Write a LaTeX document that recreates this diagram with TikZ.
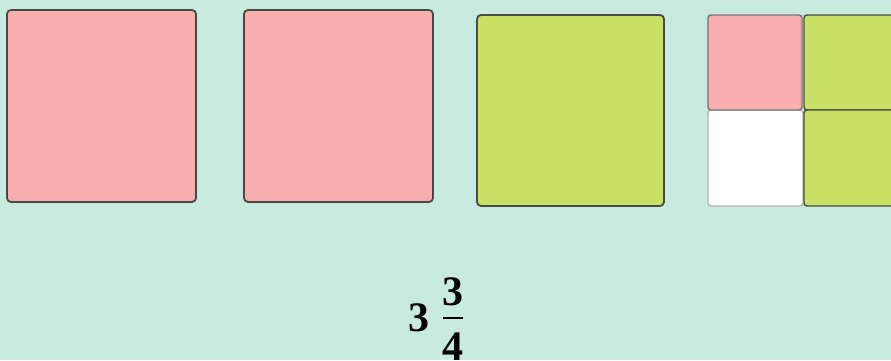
\documentclass[tikz,border=0pt]{standalone}
\usepackage{fontspec}
\setmainfont{Liberation Serif}
\definecolor{bgmint}{HTML}{C9EBDF}
\definecolor{pinkfill}{HTML}{F9AFAE}
\definecolor{greenfill}{HTML}{C9E066}
\definecolor{edgedark}{HTML}{4A4A45}
\begin{document}
\begin{tikzpicture}[x=1pt,y=-1pt,
  sq/.style={draw=edgedark, line width=1.8pt, rounded corners=4pt, inner sep=0pt, outer sep=0pt, anchor=north west},
  pinksq/.style={sq, fill=pinkfill},
  greensq/.style={sq, fill=greenfill},
  piece/.style={sq, line width=1.4pt, rounded corners=3pt},
  numtext/.style={font=\fontsize{42}{44}\selectfont\bfseries, inner sep=0pt, text=black}]
\fill[bgmint] (0,0) rectangle (891,360);
\useasboundingbox (0,0) rectangle (891,360);
\clip (0,0) rectangle (891,360);
\node[pinksq, minimum width=189pt, minimum height=192pt] (p1) at (7,10) {};
\node[pinksq, minimum width=189pt, minimum height=192pt] (p2) at (244,10) {};
\node[greensq, minimum width=187pt, minimum height=191pt] (g1) at (477,15) {};
\node[piece, draw=gray!60, fill=white, minimum width=95pt, minimum height=96pt] (w) at (708,110) {};
\node[piece, draw=gray!90!black, fill=pinkfill, minimum width=94pt, minimum height=95pt] (ps) at (708,15) {};
\node[piece, draw=edgedark, fill=greenfill, minimum width=110pt, minimum height=95pt] (gs1) at (804,15) {};
\node[piece, draw=edgedark, fill=greenfill, minimum width=110pt, minimum height=96pt] (gs2) at (804,110) {};
\node[numtext, anchor=center] (whole) at (419,317.5) {3};
\node[numtext, anchor=center] (num) at (453,292) {3};
\node[numtext, anchor=center] (den) at (453,347) {4};
\coordinate (barl) at (443,318);
\coordinate (barr) at (463,318);
\draw[line width=2pt, black] (barl) -- (barr);
\end{tikzpicture}
\end{document}
